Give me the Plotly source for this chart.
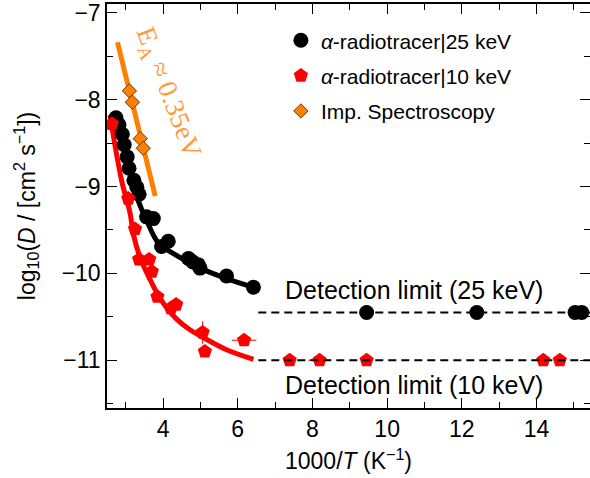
import plotly.graph_objects as go

# ---- data ----
# alpha-radiotracer | 25 keV
b25_x = [2.74, 2.82, 2.91, 2.96, 3.04, 3.09, 3.22, 3.30, 3.36, 3.56, 3.74, 3.96, 4.14,
         4.68, 4.80, 4.94, 4.99, 5.70, 6.42, 9.45, 12.40, 15.03, 15.21]
b25_y = [-8.21, -8.29, -8.40, -8.52, -8.66, -8.79, -8.93, -9.01, -9.09, -9.35, -9.37, -9.69, -9.63,
         -9.83, -9.87, -9.90, -9.94, -10.03, -10.16, -10.45, -10.45, -10.45, -10.45]

# alpha-radiotracer | 10 keV
r10_x = [2.63, 3.07, 3.25, 3.36, 3.63, 3.70, 3.85, 4.21, 4.35, 5.06, 5.12, 6.17,
         7.39, 8.19, 9.45, 14.18, 14.62]
r10_y = [-8.28, -9.14, -9.49, -9.84, -9.84, -9.98, -10.27, -10.40, -10.36, -10.68, -10.90, -10.77,
         -11.0, -11.0, -11.0, -11.0, -11.0]
r10_ey = [0, 0, 0, 0.07, 0, 0.05, 0, 0, 0, 0.13, 0, 0.04, 0, 0, 0, 0, 0]
r10_ex = [0, 0, 0, 0, 0, 0, 0, 0, 0, 0, 0, 0.33, 0, 0.3, 0, 0, 0]

# impedance spectroscopy
imp_x = [3.10, 3.18, 3.39, 3.47]
imp_y = [-7.90, -8.03, -8.45, -8.56]

# fitted curves
fit25_x = [2.69, 2.85, 3.04, 3.20, 3.30, 3.56, 3.87, 4.19, 4.63, 4.99, 5.70, 6.42]
fit25_y = [-8.14, -8.41, -8.70, -8.93, -9.12, -9.39, -9.65, -9.75, -9.86, -9.94, -10.06, -10.16]
fit10_x = [2.58, 2.89, 3.12, 3.20, 3.38, 3.65, 3.87, 4.10, 4.37, 4.72, 5.08, 5.70, 6.42]
fit10_y = [-8.18, -8.93, -9.31, -9.54, -9.81, -10.07, -10.25, -10.40, -10.53, -10.65, -10.74, -10.88, -10.99]
fitimp_x = [2.78, 3.79]
fitimp_y = [-7.34, -9.11]

# detection limits
lim_x = [6.55, 15.43]
lim25 = -10.45
lim10 = -11.0

FONT = "Liberation Sans"
fig = go.Figure()

fig.add_trace(go.Scatter(x=fitimp_x, y=fitimp_y, mode="lines",
                         line=dict(color="#ff7f00", width=5), showlegend=False))
fig.add_trace(go.Scatter(x=fit10_x, y=fit10_y, mode="lines", line_shape="spline",
                         line=dict(color="#ff0000", width=5), showlegend=False))
fig.add_trace(go.Scatter(x=fit25_x, y=fit25_y, mode="lines", line_shape="spline",
                         line=dict(color="#000000", width=5), showlegend=False))

fig.add_trace(go.Scatter(x=b25_x, y=b25_y, mode="markers", name="<i>α</i>-radiotracer|25 keV",
                         legendgroup="a", legendrank=1,
                         marker=dict(symbol="circle", size=15, color="black")))
fig.add_trace(go.Scatter(x=r10_x, y=r10_y, mode="markers", name="<i>α</i>-radiotracer|10 keV",
                         legendgroup="b", legendrank=2,
                         marker=dict(symbol="pentagon", size=15, color="#ff0000"),
                         error_y=dict(type="data", array=r10_ey, color="#ff0000", thickness=1, width=0),
                         error_x=dict(type="data", array=r10_ex, color="#ff0000", thickness=1, width=0)))
fig.add_trace(go.Scatter(x=imp_x, y=imp_y, mode="markers", name="Imp. Spectroscopy",
                         legendgroup="c", legendrank=3,
                         marker=dict(symbol="diamond", size=11, color="#ff8000",
                                     line=dict(color="#6b3a10", width=1))))

fig.add_trace(go.Scatter(x=lim_x, y=[lim25, lim25], mode="lines",
                         line=dict(color="black", width=2, dash="8px,5px"), showlegend=False))
fig.add_trace(go.Scatter(x=lim_x, y=[lim10, lim10], mode="lines",
                         line=dict(color="black", width=2, dash="8px,5px"), showlegend=False))

fig.add_annotation(x=10.72, y=-10.19, text="Detection limit (25 keV)", showarrow=False,
                   font=dict(family=FONT, size=25, color="black"))
fig.add_annotation(x=10.72, y=-11.29, text="Detection limit (10 keV)", showarrow=False,
                   font=dict(family=FONT, size=25, color="black"))
fig.add_annotation(x=4.11, y=-7.93, text="E<sub>A</sub> ≈ 0.35eV", showarrow=False, textangle=69,
                   font=dict(family="Liberation Serif", size=27, color="#ff9a3c"))

axis_common = dict(showline=True, linecolor="black", linewidth=1.5, mirror="ticks",
                   ticks="inside", ticklen=10, tickwidth=1.2, tickcolor="black",
                   showgrid=False, zeroline=False, automargin=False,
                   ticklabeloverflow="allow",
                   tickfont=dict(family=FONT, size=23, color="black"))

fig.update_xaxes(range=[2.5, 15.43], dtick=2, tick0=0,
                 minor=dict(dtick=1, ticks="inside", ticklen=6, tickcolor="black"),
                 title=dict(text="1000/<i>T</i> (K<sup>−1</sup>)", standoff=12,
                            font=dict(family=FONT, size=23, color="black")),
                 **axis_common)
fig.update_yaxes(range=[-11.55, -6.9], dtick=1, tick0=0,
                 minor=dict(dtick=0.5, ticks="inside", ticklen=6, tickcolor="black"),
                 title=dict(text="log<sub>10</sub>(<i>D</i> / [cm<sup>2</sup> s<sup>−1</sup>])", standoff=20,
                            font=dict(family=FONT, size=23, color="black")),
                 **axis_common)

fig.update_layout(width=590, height=478, margin=dict(l=107, r=0, t=4, b=70),
                  plot_bgcolor="white", paper_bgcolor="white",
                  font=dict(family=FONT, color="black"),
                  legend=dict(x=0.36, y=0.96, xanchor="left", yanchor="top",
                              bgcolor="rgba(0,0,0,0)", font=dict(family=FONT, size=21),
                              itemwidth=30, tracegroupgap=5))

# remove the browser's default page margin so the 590x478 figure fills the window exactly
fig.write_html("out.html", config={"displayModeBar": False},
               post_script="document.body.style.margin='0px';")
